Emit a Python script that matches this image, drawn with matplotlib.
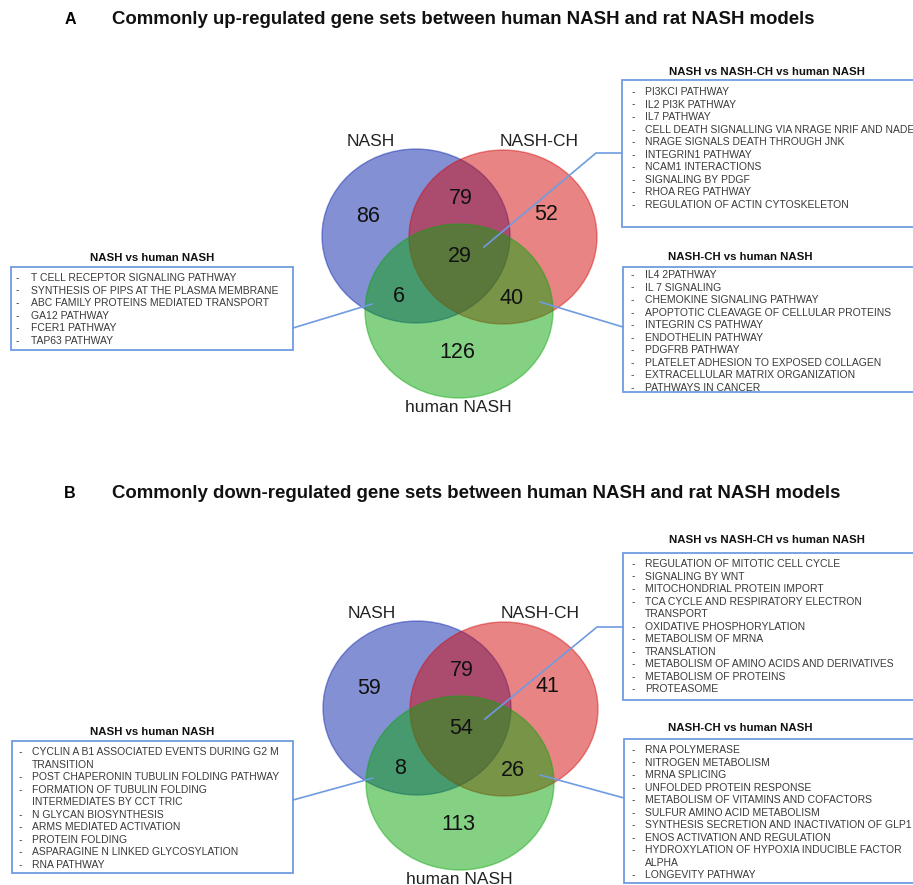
import matplotlib
matplotlib.use("Agg")
import matplotlib.pyplot as plt
from matplotlib.patches import Ellipse, Rectangle

plt.rcParams['font.family'] = ['Liberation Sans', 'DejaVu Sans']

# ---------------- data ----------------
set_labels = ["NASH", "NASH-CH", "human NASH"]

# region counts: NASH only, NASH&NASH-CH, NASH-CH only, all three,
#                NASH&human, NASH-CH&human, human only
up_counts = [86, 79, 52, 29, 6, 40, 126]
down_counts = [59, 79, 41, 54, 8, 26, 113]

panel_letters = ["A", "B"]
panel_titles = [
    "Commonly up-regulated gene sets between human NASH and rat NASH models",
    "Commonly down-regulated gene sets between human NASH and rat NASH models",
]

box_titles = ["NASH vs human NASH", "NASH vs NASH-CH vs human NASH", "NASH-CH vs human NASH"]

up_nash_human = [
    "T CELL RECEPTOR SIGNALING PATHWAY",
    "SYNTHESIS OF PIPS AT THE PLASMA MEMBRANE",
    "ABC FAMILY PROTEINS MEDIATED TRANSPORT",
    "GA12 PATHWAY",
    "FCER1 PATHWAY",
    "TAP63 PATHWAY",
]
up_all_three = [
    "PI3KCI PATHWAY",
    "IL2 PI3K PATHWAY",
    "IL7 PATHWAY",
    "CELL DEATH SIGNALLING VIA NRAGE NRIF AND NADE",
    "NRAGE SIGNALS DEATH THROUGH JNK",
    "INTEGRIN1 PATHWAY",
    "NCAM1 INTERACTIONS",
    "SIGNALING BY PDGF",
    "RHOA REG PATHWAY",
    "REGULATION OF ACTIN CYTOSKELETON",
]
up_ch_human = [
    "IL4 2PATHWAY",
    "IL 7 SIGNALING",
    "CHEMOKINE SIGNALING PATHWAY",
    "APOPTOTIC CLEAVAGE OF CELLULAR PROTEINS",
    "INTEGRIN CS PATHWAY",
    "ENDOTHELIN PATHWAY",
    "PDGFRB PATHWAY",
    "PLATELET ADHESION TO EXPOSED COLLAGEN",
    "EXTRACELLULAR MATRIX ORGANIZATION",
    "PATHWAYS IN CANCER",
]

down_nash_human = [
    "CYCLIN A B1 ASSOCIATED EVENTS DURING G2 M\nTRANSITION",
    "POST CHAPERONIN TUBULIN FOLDING PATHWAY",
    "FORMATION OF TUBULIN FOLDING\nINTERMEDIATES BY CCT TRIC",
    "N GLYCAN BIOSYNTHESIS",
    "ARMS MEDIATED ACTIVATION",
    "PROTEIN FOLDING",
    "ASPARAGINE N LINKED GLYCOSYLATION",
    "RNA PATHWAY",
]
down_all_three = [
    "REGULATION OF MITOTIC CELL CYCLE",
    "SIGNALING BY WNT",
    "MITOCHONDRIAL PROTEIN IMPORT",
    "TCA CYCLE AND RESPIRATORY ELECTRON\nTRANSPORT",
    "OXIDATIVE PHOSPHORYLATION",
    "METABOLISM OF MRNA",
    "TRANSLATION",
    "METABOLISM OF AMINO ACIDS AND DERIVATIVES",
    "METABOLISM OF PROTEINS",
    "PROTEASOME",
]
down_ch_human = [
    "RNA POLYMERASE",
    "NITROGEN METABOLISM",
    "MRNA SPLICING",
    "UNFOLDED PROTEIN RESPONSE",
    "METABOLISM OF VITAMINS AND COFACTORS",
    "SULFUR AMINO ACID METABOLISM",
    "SYNTHESIS SECRETION AND INACTIVATION OF GLP1",
    "ENOS ACTIVATION AND REGULATION",
    "HYDROXYLATION OF HYPOXIA INDUCIBLE FACTOR\nALPHA",
    "LONGEVITY PATHWAY",
]

# ---------------- style ----------------
fill_colors = ["#0a23aa", "#d20a0a", "#0aa50a"]
venn_alpha = 0.5
box_color = "#6f9be0"
list_color = "#3a3a3a"

fig = plt.figure(figsize=(9.13, 8.85), dpi=100)
ax = fig.add_axes([0, 0, 1, 1])
ax.set_xlim(0, 913)
ax.set_ylim(885, 0)
ax.axis("off")


def draw_venn(cx, cy, counts):
    centers = [(cx - 43, cy - 37), (cx + 44, cy - 36), (cx, cy + 38)]
    for (x, y), c in zip(centers, fill_colors):
        ax.add_patch(Ellipse((x, y), 188, 174, facecolor=c, alpha=venn_alpha,
                             edgecolor="none"))
        ax.add_patch(Ellipse((x, y), 188, 174, facecolor="none", edgecolor=c,
                             alpha=0.45, lw=1.0))
    # label positions relative to the diagram centre
    offs = [(-91, -57), (2, -74), (87, -58), (1, -16), (-60, 24), (53, 26), (-2, 80)]
    for (dx, dy), n in zip(offs, counts):
        ax.text(cx + dx, cy + dy, str(n), fontsize=15.5, ha="center", va="center",
                color="#111111")
    ax.text(cx - 88, cy - 131, set_labels[0], fontsize=12.5, ha="center",
            va="center", color="#222222")
    ax.text(cx + 80, cy - 131, set_labels[1], fontsize=12.5, ha="center",
            va="center", color="#222222")
    ax.text(cx - 1, cy + 134, set_labels[2], fontsize=12.5, ha="center",
            va="center", color="#222222")
    return centers


def draw_list(title, items, box, title_xy, dash_x, text_x, y0, step=12.55):
    x0, ytop, x1, ybot = box
    ax.add_patch(Rectangle((x0, ytop), x1 - x0, ybot - ytop, facecolor="white",
                           edgecolor=box_color, lw=1.3, zorder=3))
    ax.text(title_xy[0], title_xy[1], title, fontsize=8.2, fontweight="bold",
            ha="center", va="center", color="#111111", zorder=4)
    y = y0
    for item in items:
        lines = item.split("\n")
        ax.text(dash_x, y, "-", fontsize=7.5, ha="center", va="center",
                color=list_color, zorder=4)
        for ln in lines:
            ax.text(text_x, y, ln, fontsize=7.5, ha="left", va="center",
                    color=list_color, zorder=4, clip_on=True)
            y += step


def draw_panel(ytitle, letter, title, cx, cy, counts, lists, geo):
    ax.text(70, ytitle, letter, fontsize=11.5, fontweight="bold", ha="center",
            va="center")
    ax.text(112, ytitle, title, fontsize=13.4, fontweight="bold", ha="left",
            va="center", color="#111111")
    draw_venn(cx, cy, counts)
    for (ttl, items), g in zip(lists, geo):
        draw_list(ttl, items, **g["box"])
        ax.plot(*zip(*g["line"]), color=box_color, lw=1.2, zorder=5)


# panel A
draw_panel(
    20, panel_letters[0], panel_titles[0], 459, 273, up_counts,
    [(box_titles[0], up_nash_human), (box_titles[1], up_all_three),
     (box_titles[2], up_ch_human)],
    [
        dict(box=dict(box=(11, 267, 293, 350), title_xy=(152, 258), dash_x=17,
                      text_x=31, y0=278),
             line=[(293, 328), (372, 304)]),
        dict(box=dict(box=(622, 80, 940, 227), title_xy=(767, 72), dash_x=633,
                      text_x=645, y0=92),
             line=[(484, 247), (596, 153), (622, 153)]),
        dict(box=dict(box=(623, 267, 940, 392), title_xy=(740, 257), dash_x=632,
                      text_x=645, y0=275),
             line=[(540, 302), (623, 327)]),
    ],
)

# panel B
draw_panel(
    494, panel_letters[1], panel_titles[1], 460, 745, down_counts,
    [(box_titles[0], down_nash_human), (box_titles[1], down_all_three),
     (box_titles[2], down_ch_human)],
    [
        dict(box=dict(box=(12, 741, 293, 873), title_xy=(152, 732), dash_x=20,
                      text_x=32, y0=752),
             line=[(293, 800), (373, 778)]),
        dict(box=dict(box=(623, 553, 940, 700), title_xy=(767, 540), dash_x=633,
                      text_x=645, y0=564),
             line=[(485, 719), (597, 627), (623, 627)]),
        dict(box=dict(box=(624, 739, 940, 883), title_xy=(740, 728), dash_x=633,
                      text_x=645, y0=750),
             line=[(540, 775), (624, 798)]),
    ],
)

fig.savefig("out.png", dpi=100, facecolor="white")
